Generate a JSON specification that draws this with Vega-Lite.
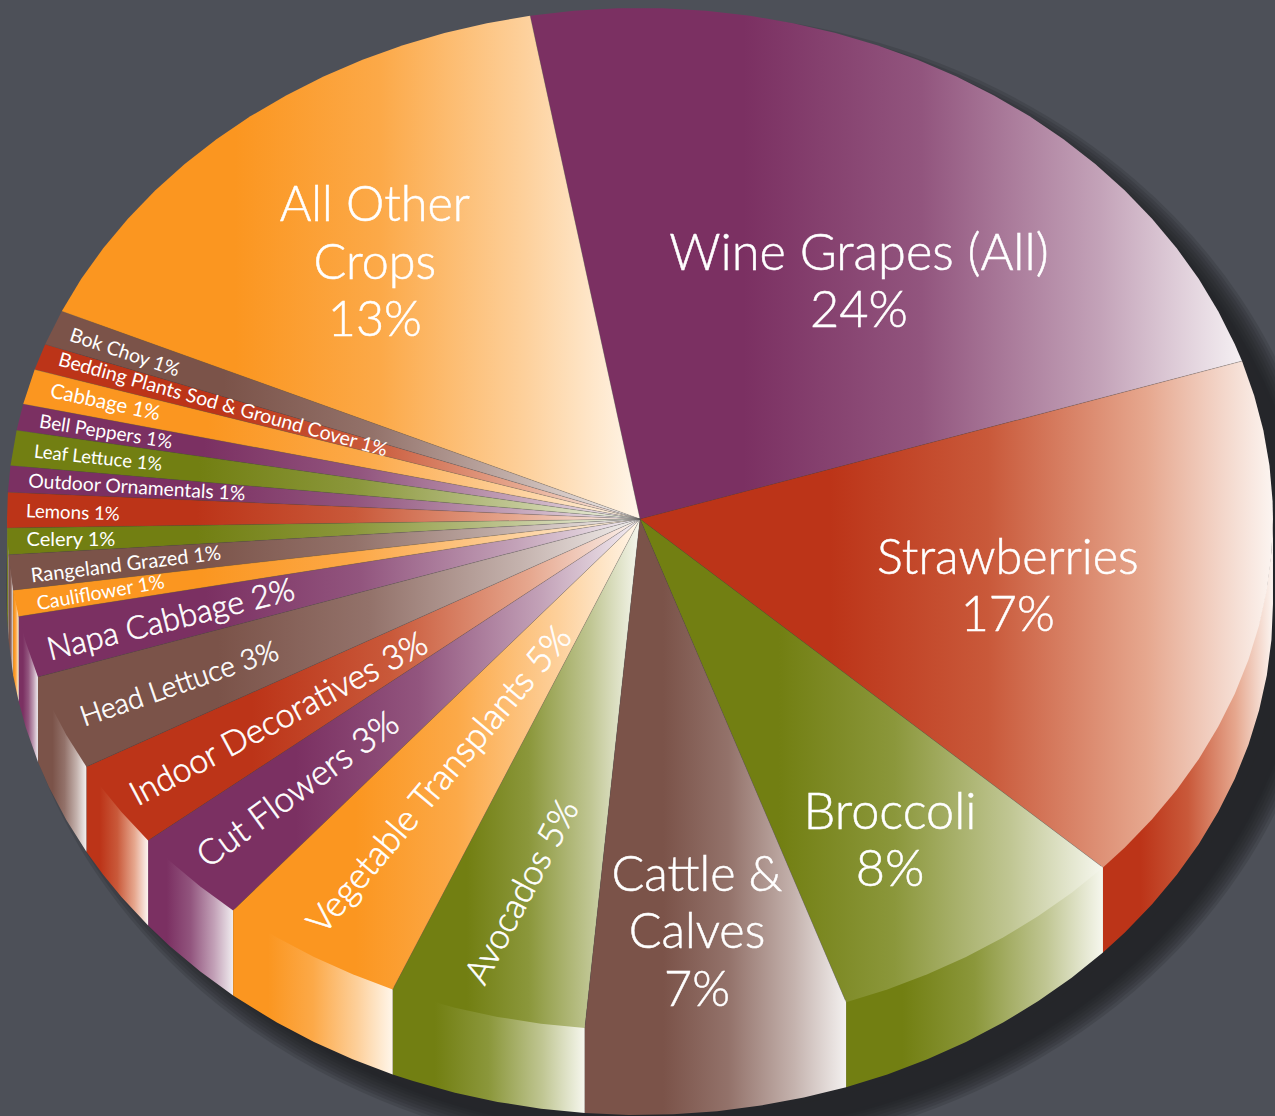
{"$schema":"https://vega.github.io/schema/vega-lite/v6.json","width":1275,"height":1116,"padding":0,"autosize":{"type":"none"},"background":"#4d5058","config":{"view":{"stroke":null}},
"datasets":{
"outline":[{"x":0.0442,"y":0.9471},{"x":0.3059,"y":0.9104},{"x":0.5498,"y":0.8029},{"x":0.7592,"y":0.6319},{"x":0.9198,"y":0.409},{"x":1.0208,"y":0.1493},{"x":1.0553,"y":-0.1292},{"x":1.0208,"y":-0.4077},{"x":0.9198,"y":-0.6674},{"x":0.7592,"y":-0.8903},{"x":0.5498,"y":-1.0613},{"x":0.3059,"y":-1.1688},{"x":0.0442,"y":-1.2055},{"x":-0.2175,"y":-1.1688},{"x":-0.4614,"y":-1.0613},{"x":-0.6708,"y":-0.8903},{"x":-0.8314,"y":-0.6674},{"x":-0.9324,"y":-0.4077},{"x":-0.9669,"y":-0.1292},{"x":-0.9324,"y":0.1493},{"x":-0.8314,"y":0.409},{"x":-0.6708,"y":0.6319},{"x":-0.4614,"y":0.8029},{"x":-0.2175,"y":0.9104}],
"rim":[
{"crop":"Wine Grapes (All)","part":"center","x":0,"y":0},{"crop":"Wine Grapes (All)","part":"rim","x":-0.1736,"y":0.9848},{"crop":"Wine Grapes (All)","part":"rim","x":-0.1045,"y":0.9945},{"crop":"Wine Grapes (All)","part":"rim","x":-0.0349,"y":0.9994},{"crop":"Wine Grapes (All)","part":"rim","x":0.0349,"y":0.9994},{"crop":"Wine Grapes (All)","part":"rim","x":0.1045,"y":0.9945},{"crop":"Wine Grapes (All)","part":"rim","x":0.1736,"y":0.9848},{"crop":"Wine Grapes (All)","part":"rim","x":0.2419,"y":0.9703},{"crop":"Wine Grapes (All)","part":"rim","x":0.309,"y":0.9511},{"crop":"Wine Grapes (All)","part":"rim","x":0.3746,"y":0.9272},{"crop":"Wine Grapes (All)","part":"rim","x":0.4384,"y":0.8988},{"crop":"Wine Grapes (All)","part":"rim","x":0.5,"y":0.866},{"crop":"Wine Grapes (All)","part":"rim","x":0.5592,"y":0.829},{"crop":"Wine Grapes (All)","part":"rim","x":0.6157,"y":0.788},{"crop":"Wine Grapes (All)","part":"rim","x":0.6691,"y":0.7431},{"crop":"Wine Grapes (All)","part":"rim","x":0.7193,"y":0.6947},{"crop":"Wine Grapes (All)","part":"rim","x":0.766,"y":0.6428},{"crop":"Wine Grapes (All)","part":"rim","x":0.809,"y":0.5878},{"crop":"Wine Grapes (All)","part":"rim","x":0.848,"y":0.5299},{"crop":"Wine Grapes (All)","part":"rim","x":0.8829,"y":0.4695},{"crop":"Wine Grapes (All)","part":"rim","x":0.9135,"y":0.4067},{"crop":"Wine Grapes (All)","part":"rim","x":0.9397,"y":0.342},{"crop":"Wine Grapes (All)","part":"rim","x":0.9511,"y":0.309},
{"crop":"Strawberries","part":"center","x":0,"y":0},{"crop":"Strawberries","part":"rim","x":0.9511,"y":0.309},{"crop":"Strawberries","part":"rim","x":0.9703,"y":0.2419},{"crop":"Strawberries","part":"rim","x":0.9848,"y":0.1736},{"crop":"Strawberries","part":"rim","x":0.9945,"y":0.1045},{"crop":"Strawberries","part":"rim","x":0.9994,"y":0.0349},{"crop":"Strawberries","part":"rim","x":1,"y":0},{"crop":"Strawberries","part":"rim","x":0.9976,"y":-0.0698},{"crop":"Strawberries","part":"rim","x":0.9903,"y":-0.1392},{"crop":"Strawberries","part":"rim","x":0.9781,"y":-0.2079},{"crop":"Strawberries","part":"rim","x":0.9613,"y":-0.2756},{"crop":"Strawberries","part":"rim","x":0.9397,"y":-0.342},{"crop":"Strawberries","part":"rim","x":0.9135,"y":-0.4067},{"crop":"Strawberries","part":"rim","x":0.8829,"y":-0.4695},{"crop":"Strawberries","part":"rim","x":0.848,"y":-0.5299},{"crop":"Strawberries","part":"rim","x":0.809,"y":-0.5878},{"crop":"Strawberries","part":"rim","x":0.766,"y":-0.6428},{"crop":"Strawberries","part":"rim","x":0.7314,"y":-0.682},
{"crop":"Broccoli","part":"center","x":0,"y":0},{"crop":"Broccoli","part":"rim","x":0.7314,"y":-0.682},{"crop":"Broccoli","part":"rim","x":0.682,"y":-0.7314},{"crop":"Broccoli","part":"rim","x":0.6293,"y":-0.7771},{"crop":"Broccoli","part":"rim","x":0.5736,"y":-0.8192},{"crop":"Broccoli","part":"rim","x":0.515,"y":-0.8572},{"crop":"Broccoli","part":"rim","x":0.454,"y":-0.891},{"crop":"Broccoli","part":"rim","x":0.3907,"y":-0.9205},{"crop":"Broccoli","part":"rim","x":0.3256,"y":-0.9455},
{"crop":"Cattle & Calves","part":"center","x":0,"y":0},{"crop":"Cattle & Calves","part":"rim","x":0.3256,"y":-0.9455},{"crop":"Cattle & Calves","part":"rim","x":0.2588,"y":-0.9659},{"crop":"Cattle & Calves","part":"rim","x":0.1908,"y":-0.9816},{"crop":"Cattle & Calves","part":"rim","x":0.1219,"y":-0.9925},{"crop":"Cattle & Calves","part":"rim","x":0.0523,"y":-0.9986},{"crop":"Cattle & Calves","part":"rim","x":-0.0175,"y":-0.9998},{"crop":"Cattle & Calves","part":"rim","x":-0.0872,"y":-0.9962},
{"crop":"Avocados","part":"center","x":0,"y":0},{"crop":"Avocados","part":"rim","x":-0.0872,"y":-0.9962},{"crop":"Avocados","part":"rim","x":-0.1564,"y":-0.9877},{"crop":"Avocados","part":"rim","x":-0.225,"y":-0.9744},{"crop":"Avocados","part":"rim","x":-0.2924,"y":-0.9563},{"crop":"Avocados","part":"rim","x":-0.3584,"y":-0.9336},{"crop":"Avocados","part":"rim","x":-0.3907,"y":-0.9205},
{"crop":"Vegetable Transplants","part":"center","x":0,"y":0},{"crop":"Vegetable Transplants","part":"rim","x":-0.3907,"y":-0.9205},{"crop":"Vegetable Transplants","part":"rim","x":-0.454,"y":-0.891},{"crop":"Vegetable Transplants","part":"rim","x":-0.515,"y":-0.8572},{"crop":"Vegetable Transplants","part":"rim","x":-0.5736,"y":-0.8192},{"crop":"Vegetable Transplants","part":"rim","x":-0.6428,"y":-0.766},
{"crop":"Cut Flowers","part":"center","x":0,"y":0},{"crop":"Cut Flowers","part":"rim","x":-0.6428,"y":-0.766},{"crop":"Cut Flowers","part":"rim","x":-0.6947,"y":-0.7193},{"crop":"Cut Flowers","part":"rim","x":-0.7431,"y":-0.6691},{"crop":"Cut Flowers","part":"rim","x":-0.7771,"y":-0.6293},
{"crop":"Indoor Decoratives","part":"center","x":0,"y":0},{"crop":"Indoor Decoratives","part":"rim","x":-0.7771,"y":-0.6293},{"crop":"Indoor Decoratives","part":"rim","x":-0.8192,"y":-0.5736},{"crop":"Indoor Decoratives","part":"rim","x":-0.848,"y":-0.5299},{"crop":"Indoor Decoratives","part":"rim","x":-0.8746,"y":-0.4848},
{"crop":"Head Lettuce","part":"center","x":0,"y":0},{"crop":"Head Lettuce","part":"rim","x":-0.8746,"y":-0.4848},{"crop":"Head Lettuce","part":"rim","x":-0.9063,"y":-0.4226},{"crop":"Head Lettuce","part":"rim","x":-0.9336,"y":-0.3584},{"crop":"Head Lettuce","part":"rim","x":-0.9511,"y":-0.309},
{"crop":"Napa Cabbage","part":"center","x":0,"y":0},{"crop":"Napa Cabbage","part":"rim","x":-0.9511,"y":-0.309},{"crop":"Napa Cabbage","part":"rim","x":-0.9703,"y":-0.2419},{"crop":"Napa Cabbage","part":"rim","x":-0.9816,"y":-0.1908},
{"crop":"Cauliflower","part":"center","x":0,"y":0},{"crop":"Cauliflower","part":"rim","x":-0.9816,"y":-0.1908},{"crop":"Cauliflower","part":"rim","x":-0.9903,"y":-0.1392},
{"crop":"Rangeland Grazed","part":"center","x":0,"y":0},{"crop":"Rangeland Grazed","part":"rim","x":-0.9903,"y":-0.1392},{"crop":"Rangeland Grazed","part":"rim","x":-0.9976,"y":-0.0698},
{"crop":"Celery","part":"center","x":0,"y":0},{"crop":"Celery","part":"rim","x":-0.9976,"y":-0.0698},{"crop":"Celery","part":"rim","x":-0.9998,"y":-0.0175},
{"crop":"Lemons","part":"center","x":0,"y":0},{"crop":"Lemons","part":"rim","x":-0.9998,"y":-0.0175},{"crop":"Lemons","part":"rim","x":-1,"y":0},{"crop":"Lemons","part":"rim","x":-0.9986,"y":0.0523},
{"crop":"Outdoor Ornamentals","part":"center","x":0,"y":0},{"crop":"Outdoor Ornamentals","part":"rim","x":-0.9986,"y":0.0523},{"crop":"Outdoor Ornamentals","part":"rim","x":-0.9945,"y":0.1045},
{"crop":"Leaf Lettuce","part":"center","x":0,"y":0},{"crop":"Leaf Lettuce","part":"rim","x":-0.9945,"y":0.1045},{"crop":"Leaf Lettuce","part":"rim","x":-0.9848,"y":0.1736},
{"crop":"Bell Peppers","part":"center","x":0,"y":0},{"crop":"Bell Peppers","part":"rim","x":-0.9848,"y":0.1736},{"crop":"Bell Peppers","part":"rim","x":-0.9744,"y":0.225},
{"crop":"Cabbage","part":"center","x":0,"y":0},{"crop":"Cabbage","part":"rim","x":-0.9744,"y":0.225},{"crop":"Cabbage","part":"rim","x":-0.9563,"y":0.2924},
{"crop":"Bedding Plants Sod & Ground Cover","part":"center","x":0,"y":0},{"crop":"Bedding Plants Sod & Ground Cover","part":"rim","x":-0.9563,"y":0.2924},{"crop":"Bedding Plants Sod & Ground Cover","part":"rim","x":-0.9397,"y":0.342},
{"crop":"Bok Choy","part":"center","x":0,"y":0},{"crop":"Bok Choy","part":"rim","x":-0.9397,"y":0.342},{"crop":"Bok Choy","part":"rim","x":-0.9135,"y":0.4067},
{"crop":"All Other Crops","part":"center","x":0,"y":0},{"crop":"All Other Crops","part":"rim","x":-0.9135,"y":0.4067},{"crop":"All Other Crops","part":"rim","x":-0.8829,"y":0.4695},{"crop":"All Other Crops","part":"rim","x":-0.848,"y":0.5299},{"crop":"All Other Crops","part":"rim","x":-0.809,"y":0.5878},{"crop":"All Other Crops","part":"rim","x":-0.766,"y":0.6428},{"crop":"All Other Crops","part":"rim","x":-0.7193,"y":0.6947},{"crop":"All Other Crops","part":"rim","x":-0.6691,"y":0.7431},{"crop":"All Other Crops","part":"rim","x":-0.6157,"y":0.788},{"crop":"All Other Crops","part":"rim","x":-0.5592,"y":0.829},{"crop":"All Other Crops","part":"rim","x":-0.5,"y":0.866},{"crop":"All Other Crops","part":"rim","x":-0.4384,"y":0.8988},{"crop":"All Other Crops","part":"rim","x":-0.3746,"y":0.9272},{"crop":"All Other Crops","part":"rim","x":-0.309,"y":0.9511},{"crop":"All Other Crops","part":"rim","x":-0.2419,"y":0.9703},{"crop":"All Other Crops","part":"rim","x":-0.1736,"y":0.9848}
]},
"encoding":{"x":{"field":"x","type":"quantitative","axis":null,"scale":{"domain":[-1.0111,1.0032],"nice":false,"zero":false}},"y":{"field":"y","type":"quantitative","axis":null,"scale":{"domain":[-1.1683,1.0157],"nice":false,"zero":false}}},
"layer":[
{"data":{"name":"outline"},"mark":{"type":"line","filled":true,"clip":true,"interpolate":"cardinal-closed","fill":"#1c1d20","stroke":"#1c1d20","strokeWidth":44,"opacity":0.167},"encoding":{"order":{"value":null}}},
{"data":{"name":"outline"},"mark":{"type":"line","filled":true,"clip":true,"interpolate":"cardinal-closed","fill":"#1c1d20","stroke":"#1c1d20","strokeWidth":38,"opacity":0.167},"encoding":{"order":{"value":null}}},
{"data":{"name":"outline"},"mark":{"type":"line","filled":true,"clip":true,"interpolate":"cardinal-closed","fill":"#1c1d20","stroke":"#1c1d20","strokeWidth":32,"opacity":0.167},"encoding":{"order":{"value":null}}},
{"data":{"name":"outline"},"mark":{"type":"line","filled":true,"clip":true,"interpolate":"cardinal-closed","fill":"#1c1d20","stroke":"#1c1d20","strokeWidth":26,"opacity":0.167},"encoding":{"order":{"value":null}}},
{"data":{"name":"outline"},"mark":{"type":"line","filled":true,"clip":true,"interpolate":"cardinal-closed","fill":"#1c1d20","stroke":"#1c1d20","strokeWidth":20,"opacity":0.167},"encoding":{"order":{"value":null}}},
{"data":{"name":"outline"},"mark":{"type":"line","filled":true,"clip":true,"interpolate":"cardinal-closed","fill":"#1c1d20","stroke":"#1c1d20","strokeWidth":14,"opacity":0.167},"encoding":{"order":{"value":null}}},
{"data":{"name":"outline"},"mark":{"type":"line","filled":true,"clip":true,"interpolate":"cardinal-closed","fill":"#1c1d20","stroke":"#1c1d20","strokeWidth":8,"opacity":0.167},"encoding":{"order":{"value":null}}},
{"data":{"name":"outline"},"mark":{"type":"line","filled":true,"clip":true,"interpolate":"cardinal-closed","fill":"#1c1d20","stroke":"#1c1d20","strokeWidth":3,"opacity":0.167},"encoding":{"order":{"value":null}}},

{"data":{"name":"rim"},"transform":[{"filter":"datum.part==='rim' && datum.y<=0 && indexof(['Cut Flowers','Napa Cabbage'],datum.crop)>=0"}],"mark":{"type":"area","yOffset":-3,"y2Offset":85,"color":{"gradient":"linear","x1":0,"y1":0,"x2":1,"y2":0,"stops":[{"offset":0,"color":"#7b3062"},{"offset":0.22,"color":"#7b3062"},{"offset":0.5,"color":"#92557e"},{"offset":0.78,"color":"#c3a2b8"},{"offset":1,"color":"#f0ecef"}]}},"encoding":{"y2":{"field":"y"},"detail":{"field":"crop"}}},
{"data":{"name":"rim"},"transform":[{"filter":"datum.part==='rim' && datum.y<=0 && indexof(['Strawberries','Indoor Decoratives','Lemons'],datum.crop)>=0"}],"mark":{"type":"area","yOffset":-3,"y2Offset":85,"color":{"gradient":"linear","x1":0,"y1":0,"x2":1,"y2":0,"stops":[{"offset":0,"color":"#bc3418"},{"offset":0.22,"color":"#bc3418"},{"offset":0.5,"color":"#c9593a"},{"offset":0.78,"color":"#e6a78e"},{"offset":1,"color":"#fcf5f1"}]}},"encoding":{"y2":{"field":"y"},"detail":{"field":"crop"}}},
{"data":{"name":"rim"},"transform":[{"filter":"datum.part==='rim' && datum.y<=0 && indexof(['Broccoli','Avocados','Celery'],datum.crop)>=0"}],"mark":{"type":"area","yOffset":-3,"y2Offset":85,"color":{"gradient":"linear","x1":0,"y1":0,"x2":1,"y2":0,"stops":[{"offset":0,"color":"#727f12"},{"offset":0.22,"color":"#727f12"},{"offset":0.5,"color":"#8b973b"},{"offset":0.78,"color":"#c0c693"},{"offset":1,"color":"#f6f7ee"}]}},"encoding":{"y2":{"field":"y"},"detail":{"field":"crop"}}},
{"data":{"name":"rim"},"transform":[{"filter":"datum.part==='rim' && datum.y<=0 && indexof(['Cattle & Calves','Head Lettuce','Rangeland Grazed'],datum.crop)>=0"}],"mark":{"type":"area","yOffset":-3,"y2Offset":85,"color":{"gradient":"linear","x1":0,"y1":0,"x2":1,"y2":0,"stops":[{"offset":0,"color":"#7b5349"},{"offset":0.3,"color":"#7b5349"},{"offset":0.55,"color":"#93726a"},{"offset":0.8,"color":"#c4b2ad"},{"offset":1,"color":"#f3f0ef"}]}},"encoding":{"y2":{"field":"y"},"detail":{"field":"crop"}}},
{"data":{"name":"rim"},"transform":[{"filter":"datum.part==='rim' && datum.y<=0 && indexof(['Vegetable Transplants','Cauliflower'],datum.crop)>=0"}],"mark":{"type":"area","yOffset":-3,"y2Offset":85,"color":{"gradient":"linear","x1":0,"y1":0,"x2":1,"y2":0,"stops":[{"offset":0,"color":"#fb9620"},{"offset":0.22,"color":"#fb9620"},{"offset":0.5,"color":"#fca948"},{"offset":0.78,"color":"#fdd09b"},{"offset":1,"color":"#fff6ea"}]}},"encoding":{"y2":{"field":"y"},"detail":{"field":"crop"}}},

{"data":{"name":"rim"},"transform":[{"filter":"indexof(['Wine Grapes (All)','Cut Flowers','Napa Cabbage','Outdoor Ornamentals','Bell Peppers'],datum.crop)>=0"}],"mark":{"type":"line","filled":true,"stroke":null,"fill":{"gradient":"linear","x1":0,"y1":0,"x2":1,"y2":0,"stops":[{"offset":0,"color":"#7b3062"},{"offset":0.3,"color":"#7b3062"},{"offset":0.55,"color":"#92557e"},{"offset":0.8,"color":"#c3a2b8"},{"offset":1,"color":"#f5f0f3"}]}},"encoding":{"detail":{"field":"crop"},"order":{"value":null}}},
{"data":{"name":"rim"},"transform":[{"filter":"indexof(['Strawberries','Indoor Decoratives','Lemons','Bedding Plants Sod & Ground Cover'],datum.crop)>=0"}],"mark":{"type":"line","filled":true,"stroke":null,"fill":{"gradient":"linear","x1":0,"y1":0,"x2":1,"y2":0,"stops":[{"offset":0,"color":"#bc3418"},{"offset":0.3,"color":"#bc3418"},{"offset":0.55,"color":"#c9593a"},{"offset":0.8,"color":"#e6a78e"},{"offset":1,"color":"#fcf5f1"}]}},"encoding":{"detail":{"field":"crop"},"order":{"value":null}}},
{"data":{"name":"rim"},"transform":[{"filter":"indexof(['Broccoli','Avocados','Celery','Leaf Lettuce'],datum.crop)>=0"}],"mark":{"type":"line","filled":true,"stroke":null,"fill":{"gradient":"linear","x1":0,"y1":0,"x2":1,"y2":0,"stops":[{"offset":0,"color":"#727f12"},{"offset":0.3,"color":"#727f12"},{"offset":0.55,"color":"#8b973b"},{"offset":0.8,"color":"#c0c693"},{"offset":1,"color":"#f6f7ee"}]}},"encoding":{"detail":{"field":"crop"},"order":{"value":null}}},
{"data":{"name":"rim"},"transform":[{"filter":"indexof(['Cattle & Calves','Head Lettuce','Rangeland Grazed','Bok Choy'],datum.crop)>=0"}],"mark":{"type":"line","filled":true,"stroke":null,"fill":{"gradient":"linear","x1":0,"y1":0,"x2":1,"y2":0,"stops":[{"offset":0,"color":"#7b5349"},{"offset":0.3,"color":"#7b5349"},{"offset":0.55,"color":"#93726a"},{"offset":0.8,"color":"#c4b2ad"},{"offset":1,"color":"#f3f0ef"}]}},"encoding":{"detail":{"field":"crop"},"order":{"value":null}}},
{"data":{"name":"rim"},"transform":[{"filter":"indexof(['All Other Crops','Vegetable Transplants','Cauliflower','Cabbage'],datum.crop)>=0"}],"mark":{"type":"line","filled":true,"stroke":null,"fill":{"gradient":"linear","x1":0,"y1":0,"x2":1,"y2":0,"stops":[{"offset":0,"color":"#fb9620"},{"offset":0.3,"color":"#fb9620"},{"offset":0.55,"color":"#fca948"},{"offset":0.8,"color":"#fdd09b"},{"offset":1,"color":"#fff6ea"}]}},"encoding":{"detail":{"field":"crop"},"order":{"value":null}}},
{"data":{"name":"rim"},"transform":[{"window":[{"op":"row_number","as":"n"}],"groupby":["crop"]},{"filter":"datum.n<=2"}],"mark":{"type":"line","stroke":"#555555","strokeWidth":0.6,"strokeOpacity":0.4},"encoding":{"detail":{"field":"crop"},"order":{"value":null}}},

{"data":{"values":[{"label":"Wine Grapes (All)\n24%","x":0.346,"y":0.5168},{"label":"Broccoli\n8%","x":0.395,"y":-0.5772}]},"mark":{"type":"text","font":"Lato","fontWeight":300,"fontSize":50.5,"lineHeight":57.5,"lineBreak":"\n","fill":"#ffffff","stroke":"#ffffff","strokeWidth":0.5,"align":"center","baseline":"middle"},"encoding":{"text":{"field":"label"}}},
{"data":{"values":[{"label":"Strawberries\n17%","x":0.581,"y":-0.0782},{"label":"Cattle &\nCalves\n7%","x":0.09,"y":-0.6984},{"label":"All Other\nCrops\n13%","x":-0.419,"y":0.6125}]},"mark":{"type":"text","font":"Lato","fontWeight":300,"fontSize":48.5,"lineHeight":57.5,"lineBreak":"\n","fill":"#ffffff","stroke":"#ffffff","strokeWidth":0.5,"align":"center","baseline":"middle"},"encoding":{"text":{"field":"label"}}},
{"data":{"values":[{"label":"Avocados 5%","x":-0.186,"y":-0.73}]},"mark":{"type":"text","angle":-62,"font":"Lato","fontWeight":300,"fontSize":35,"fill":"#ffffff","stroke":"#ffffff","strokeWidth":0.6,"align":"center","baseline":"middle"},"encoding":{"text":{"field":"label"}}},
{"data":{"values":[{"label":"Vegetable Transplants 5%","x":-0.316,"y":-0.511}]},"mark":{"type":"text","angle":-50,"font":"Lato","fontWeight":300,"fontSize":35.5,"fill":"#ffffff","stroke":"#ffffff","strokeWidth":0.6,"align":"center","baseline":"middle"},"encoding":{"text":{"field":"label"}}},
{"data":{"values":[{"label":"Cut Flowers 3%","x":-0.54,"y":-0.53}]},"mark":{"type":"text","angle":-36,"font":"Lato","fontWeight":300,"fontSize":35,"fill":"#ffffff","stroke":"#ffffff","strokeWidth":0.6,"align":"center","baseline":"middle"},"encoding":{"text":{"field":"label"}}},
{"data":{"values":[{"label":"Indoor Decoratives 3%","x":-0.57,"y":-0.393}]},"mark":{"type":"text","angle":-28,"font":"Lato","fontWeight":300,"fontSize":33.7,"fill":"#ffffff","stroke":"#ffffff","strokeWidth":0.6,"align":"center","baseline":"middle"},"encoding":{"text":{"field":"label"}}},
{"data":{"values":[{"label":"Head Lettuce 3%","x":-0.727,"y":-0.325}]},"mark":{"type":"text","angle":-19,"font":"Lato","fontWeight":300,"fontSize":28.2,"fill":"#ffffff","stroke":"#ffffff","strokeWidth":0.6,"align":"center","baseline":"middle"},"encoding":{"text":{"field":"label"}}},
{"data":{"values":[{"label":"Napa Cabbage 2%","x":-0.741,"y":-0.198}]},"mark":{"type":"text","angle":-14,"font":"Lato","fontWeight":300,"fontSize":32,"fill":"#ffffff","stroke":"#ffffff","strokeWidth":0.6,"align":"center","baseline":"middle"},"encoding":{"text":{"field":"label"}}},
{"data":{"values":[{"label":"Cauliflower 1%","x":-0.852,"y":-0.145}]},"mark":{"type":"text","angle":-10,"font":"Lato","fontWeight":400,"fontSize":19.5,"color":"#ffffff","align":"center","baseline":"middle"},"encoding":{"text":{"field":"label"}}},
{"data":{"values":[{"label":"Rangeland Grazed 1%","x":-0.812,"y":-0.09}]},"mark":{"type":"text","angle":-7,"font":"Lato","fontWeight":400,"fontSize":20,"color":"#ffffff","align":"center","baseline":"middle"},"encoding":{"text":{"field":"label"}}},
{"data":{"values":[{"label":"Celery 1%","x":-0.899,"y":-0.041}]},"mark":{"type":"text","angle":0,"font":"Lato","fontWeight":400,"fontSize":20,"color":"#ffffff","align":"center","baseline":"middle"},"encoding":{"text":{"field":"label"}}},
{"data":{"values":[{"label":"Lemons 1%","x":-0.896,"y":0.012}]},"mark":{"type":"text","angle":2,"font":"Lato","fontWeight":400,"fontSize":18.7,"color":"#ffffff","align":"center","baseline":"middle"},"encoding":{"text":{"field":"label"}}},
{"data":{"values":[{"label":"Outdoor Ornamentals 1%","x":-0.795,"y":0.061}]},"mark":{"type":"text","angle":3.5,"font":"Lato","fontWeight":400,"fontSize":19.3,"color":"#ffffff","align":"center","baseline":"middle"},"encoding":{"text":{"field":"label"}}},
{"data":{"values":[{"label":"Leaf Lettuce 1%","x":-0.856,"y":0.119}]},"mark":{"type":"text","angle":6,"font":"Lato","fontWeight":400,"fontSize":18.5,"color":"#ffffff","align":"center","baseline":"middle"},"encoding":{"text":{"field":"label"}}},
{"data":{"values":[{"label":"Bell Peppers 1%","x":-0.844,"y":0.17}]},"mark":{"type":"text","angle":9,"font":"Lato","fontWeight":400,"fontSize":19,"color":"#ffffff","align":"center","baseline":"middle"},"encoding":{"text":{"field":"label"}}},
{"data":{"values":[{"label":"Cabbage 1%","x":-0.845,"y":0.227}]},"mark":{"type":"text","angle":12,"font":"Lato","fontWeight":400,"fontSize":20.5,"color":"#ffffff","align":"center","baseline":"middle"},"encoding":{"text":{"field":"label"}}},
{"data":{"values":[{"label":"Bedding Plants Sod & Ground Cover 1%","x":-0.659,"y":0.223}]},"mark":{"type":"text","angle":15.5,"font":"Lato","fontWeight":400,"fontSize":19.5,"color":"#ffffff","align":"center","baseline":"middle"},"encoding":{"text":{"field":"label"}}},
{"data":{"values":[{"label":"Bok Choy 1%","x":-0.814,"y":0.325}]},"mark":{"type":"text","angle":18.5,"font":"Lato","fontWeight":400,"fontSize":19.5,"color":"#ffffff","align":"center","baseline":"middle"},"encoding":{"text":{"field":"label"}}}
]}
